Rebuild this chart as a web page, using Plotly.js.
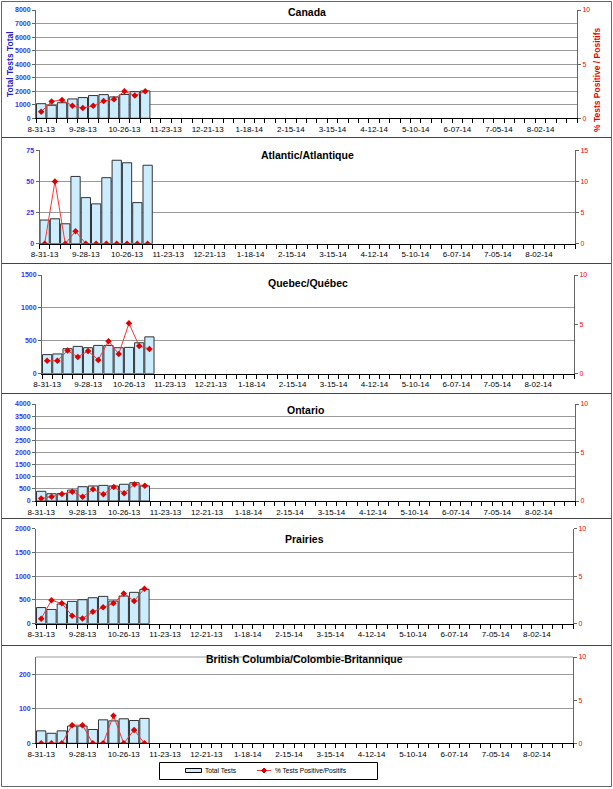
<!DOCTYPE html>
<html><head><meta charset="utf-8">
<script src="https://cdn.plot.ly/plotly-3.0.1.min.js"></script>
<style>html,body{margin:0;padding:0;background:#fff}#chart{width:613px;height:789px}</style>
</head><body><div id="chart"></div>
<script>
// ---- data ----
const weeks = ['2013-08-31','2013-09-07','2013-09-14','2013-09-21','2013-09-28','2013-10-05','2013-10-12','2013-10-19','2013-10-26','2013-11-02','2013-11-09'];
const tickDates = ['2013-08-31','2013-09-28','2013-10-26','2013-11-23','2013-12-21','2014-01-18','2014-02-15','2014-03-15','2014-04-12','2014-05-10','2014-06-07','2014-07-05','2014-08-02'];
const tickLabels = ['8-31-13','9-28-13','10-26-13','11-23-13','12-21-13','1-18-14','2-15-14','3-15-14','4-12-14','5-10-14','6-07-14','7-05-14','8-02-14'];
const regionNames = ['Canada','Atlantic/Atlantique','Quebec/Québec','Ontario','Prairies','British Columbia/Colombie-Britannique'];
const seriesNames = ['Total Tests','% Tests Positive/Positifs'];

const canadaTests   = [1080, 960, 1150, 1430, 1530, 1680, 1750, 1580, 1760, 1970, 2020];
const canadaPct     = [0.6, 1.55, 1.7, 1.15, 0.95, 1.15, 1.6, 1.75, 2.5, 2.1, 2.5];
const atlanticTests = [19, 20, 16, 54, 37, 32, 53, 67, 65, 33, 63];
const atlanticPct   = [0, 10, 0, 2, 0, 0, 0, 0, 0, 0, 0];
const quebecTests   = [290, 300, 380, 415, 395, 430, 430, 395, 400, 470, 560];
const quebecPct     = [1.3, 1.3, 2.35, 1.7, 2.3, 1.4, 3.3, 2.0, 5.1, 2.8, 2.5];
const ontarioTests  = [400, 300, 310, 450, 590, 620, 645, 620, 690, 755, 620];
const ontarioPct    = [0.27, 0.45, 0.72, 0.96, 0.45, 1.2, 0.69, 1.44, 0.8, 1.72, 1.58];
const prairiesTests = [340, 300, 415, 470, 505, 547, 575, 477, 582, 660, 723];
const prairiesPct   = [0.53, 2.46, 2.14, 0.84, 0.56, 1.26, 1.72, 2.14, 3.19, 2.39, 3.68];
const bcTests       = [36, 29, 36, 50, 50, 40, 68, 65, 71, 66, 72];
const bcPct         = [0, 0, 0, 2.1, 2.1, 0, 0, 3.2, 0, 1.55, 0];

const testsByRegion = [canadaTests, atlanticTests, quebecTests, ontarioTests, prairiesTests, bcTests];
const pctByRegion   = [canadaPct, atlanticPct, quebecPct, ontarioPct, prairiesPct, bcPct];

// ---- layout geometry (pixels) ----
const W = 613, H = 789;
const px = v => v / W, py = v => 1 - v / H;
const frames = [
  {l:36,   r:577, t:10,    b:118.3, titleY:12,  yMax:8000, yDtick:1000, y2Max:10},
  {l:39.5, r:575, t:150.3, b:243.7, titleY:155, yMax:75,   yDtick:25,   y2Max:15},
  {l:42,   r:574, t:275,   b:373.7, titleY:283, yMax:1500, yDtick:500,  y2Max:10},
  {l:36,   r:575, t:404,   b:501,   titleY:410, yMax:4000, yDtick:500,  y2Max:10},
  {l:36,   r:573, t:528.7, b:623.7, titleY:539, yMax:2000, yDtick:500,  y2Max:10},
  {l:36,   r:573, t:657,   b:743.3, titleY:659, yMax:250,  yDtick:100,  y2Max:10}
];
const WEEK = 7*86400000;
const FONT = 'Liberation Sans, Arial, sans-serif';
const BAR_FILL = '#ccecff', LINE_RED = '#ff3333', MARK_RED = '#dd0000';

const data = [];
const layout = {
  width: W, height: H,
  margin: {l:0, r:0, t:0, b:0, pad:0},
  paper_bgcolor: '#fff', plot_bgcolor: '#fff',
  font: {family: FONT, color: '#000'},
  showlegend: false,
  annotations: [], shapes: []
};

frames.forEach((f, i) => {
  const xs = i === 0 ? '' : String(i+1);
  const yA = 2*i+1, yB = 2*i+2;
  const yAs = yA === 1 ? '' : String(yA);
  const xname = 'x'+xs, yname = 'y'+yAs, y2name = 'y'+yB;

  data.push({
    type:'bar', x: weeks, y: testsByRegion[i], xaxis:xname, yaxis:yname,
    width: 0.9*WEEK, name: seriesNames[0],
    marker:{color:BAR_FILL, line:{color:'#333', width:1}}
  });
  data.push({
    type:'scatter', mode:'lines+markers', x: weeks, y: pctByRegion[i], xaxis:xname, yaxis:y2name,
    name: seriesNames[1],
    line:{color:LINE_RED, width:1}, marker:{symbol:'diamond', size:5, color:MARK_RED}
  });

  layout['xaxis'+xs] = {
    type:'date', domain:[px(f.l), px(f.r)], anchor:yname,
    range:['2013-08-27 12:00','2014-08-26 12:00'],
    tickmode:'array', tickvals:tickDates, ticktext:tickLabels,
    ticks:'outside', ticklen:0, ticklabelstandoff:3,
    showline:true, linecolor:'#000', linewidth:1, showgrid:false, zeroline:false,
    tickfont:{size:8, color:'#000', family:FONT},
    minor:{tickmode:'linear', tick0:'2013-08-27 12:00', dtick:WEEK, ticks:'outside', ticklen:4, tickcolor:'#000', showgrid:false}
  };
  layout['yaxis'+yAs] = {
    domain:[py(f.b), py(f.t)], anchor:xname, range:[0, f.yMax], tick0:0, dtick:f.yDtick,
    showgrid:true, gridcolor:'#9a9a9a', gridwidth:1, zeroline:false,
    showline:true, linecolor:'#666', ticks:'outside', ticklen:3, tickcolor:'#666',
    tickfont:{size:7, color:'#3333ff', weight:'bold', family:FONT}
  };
  layout['yaxis'+yB] = {
    overlaying:yname, side:'right', anchor:xname, range:[0, f.y2Max], tick0:0, dtick:5,
    showgrid:false, zeroline:false, showline:true, linecolor:'#666', ticks:'outside', ticklen:3, tickcolor:'#666',
    tickfont:{size:7, color:'#ff0000', family:FONT}
  };
  layout.annotations.push({
    text: regionNames[i], xref:'paper', yref:'paper', x:px((f.l+f.r)/2), y:py(f.titleY),
    xanchor:'center', yanchor:'middle', showarrow:false,
    font:{size:10.5, weight:'bold', family:FONT, color:'#000'}
  });
});

// BC plot top border
layout.shapes.push({type:'line', xref:'x6 domain', yref:'y11 domain', x0:0, x1:1, y0:1, y1:1, line:{color:'#9a9a9a', width:1}});

// axis titles for Canada panel
layout.annotations.push({
  text:'Total Tests Total', xref:'paper', yref:'paper', x:px(10), y:py(64), textangle:-90,
  xanchor:'center', yanchor:'middle', showarrow:false,
  font:{size:8.5, weight:'bold', color:'#2222cc', family:FONT}
});
layout.annotations.push({
  text:'% Tests Positive / Positifs', xref:'paper', yref:'paper', x:px(597), y:py(80), textangle:-90,
  xanchor:'center', yanchor:'middle', showarrow:false,
  font:{size:8.5, weight:'bold', color:'#ee0000', family:FONT}
});

// panel separators and outer border
[137.5, 263.5, 393.5, 518.5, 645.5].forEach(v => {
  layout.shapes.push({type:'line', xref:'paper', yref:'paper', x0:px(2), x1:px(611), y0:py(v), y1:py(v), line:{color:'#444', width:1}});
});
layout.shapes.push({type:'rect', xref:'paper', yref:'paper', x0:px(1.5), x1:px(611.5), y0:py(786.5), y1:py(1.5), line:{color:'#666', width:1}});

// legend (drawn as a small box like the original)
const LY = 770.5;
layout.shapes.push({type:'rect', xref:'paper', yref:'paper', x0:px(159.5), x1:px(377.5), y0:py(779.5), y1:py(762.5), line:{color:'#000', width:1}, fillcolor:'#fff'});
layout.shapes.push({type:'rect', xref:'paper', yref:'paper', x0:px(185.5), x1:px(201.5), y0:py(772.5), y1:py(768.5), line:{color:'#000', width:1}, fillcolor:BAR_FILL});
layout.shapes.push({type:'line', xref:'paper', yref:'paper', x0:px(257), x1:px(271), y0:py(LY), y1:py(LY), line:{color:LINE_RED, width:1}});
const dm = 2.5;
layout.shapes.push({type:'path', xref:'paper', yref:'paper',
  path:`M ${px(264)},${py(LY-dm)} L ${px(264+dm)},${py(LY)} L ${px(264)},${py(LY+dm)} L ${px(264-dm)},${py(LY)} Z`,
  line:{color:MARK_RED, width:1}, fillcolor:MARK_RED});
layout.annotations.push({text:seriesNames[0], xref:'paper', yref:'paper', x:px(203), y:py(LY), xanchor:'left', yanchor:'middle', showarrow:false, font:{size:6.6, family:FONT, color:'#000'}});
layout.annotations.push({text:seriesNames[1], xref:'paper', yref:'paper', x:px(273), y:py(LY), xanchor:'left', yanchor:'middle', showarrow:false, font:{size:6.6, family:FONT, color:'#000'}});

Plotly.newPlot('chart', data, layout, {displayModeBar:false, staticPlot:true});
</script>
</body></html>
